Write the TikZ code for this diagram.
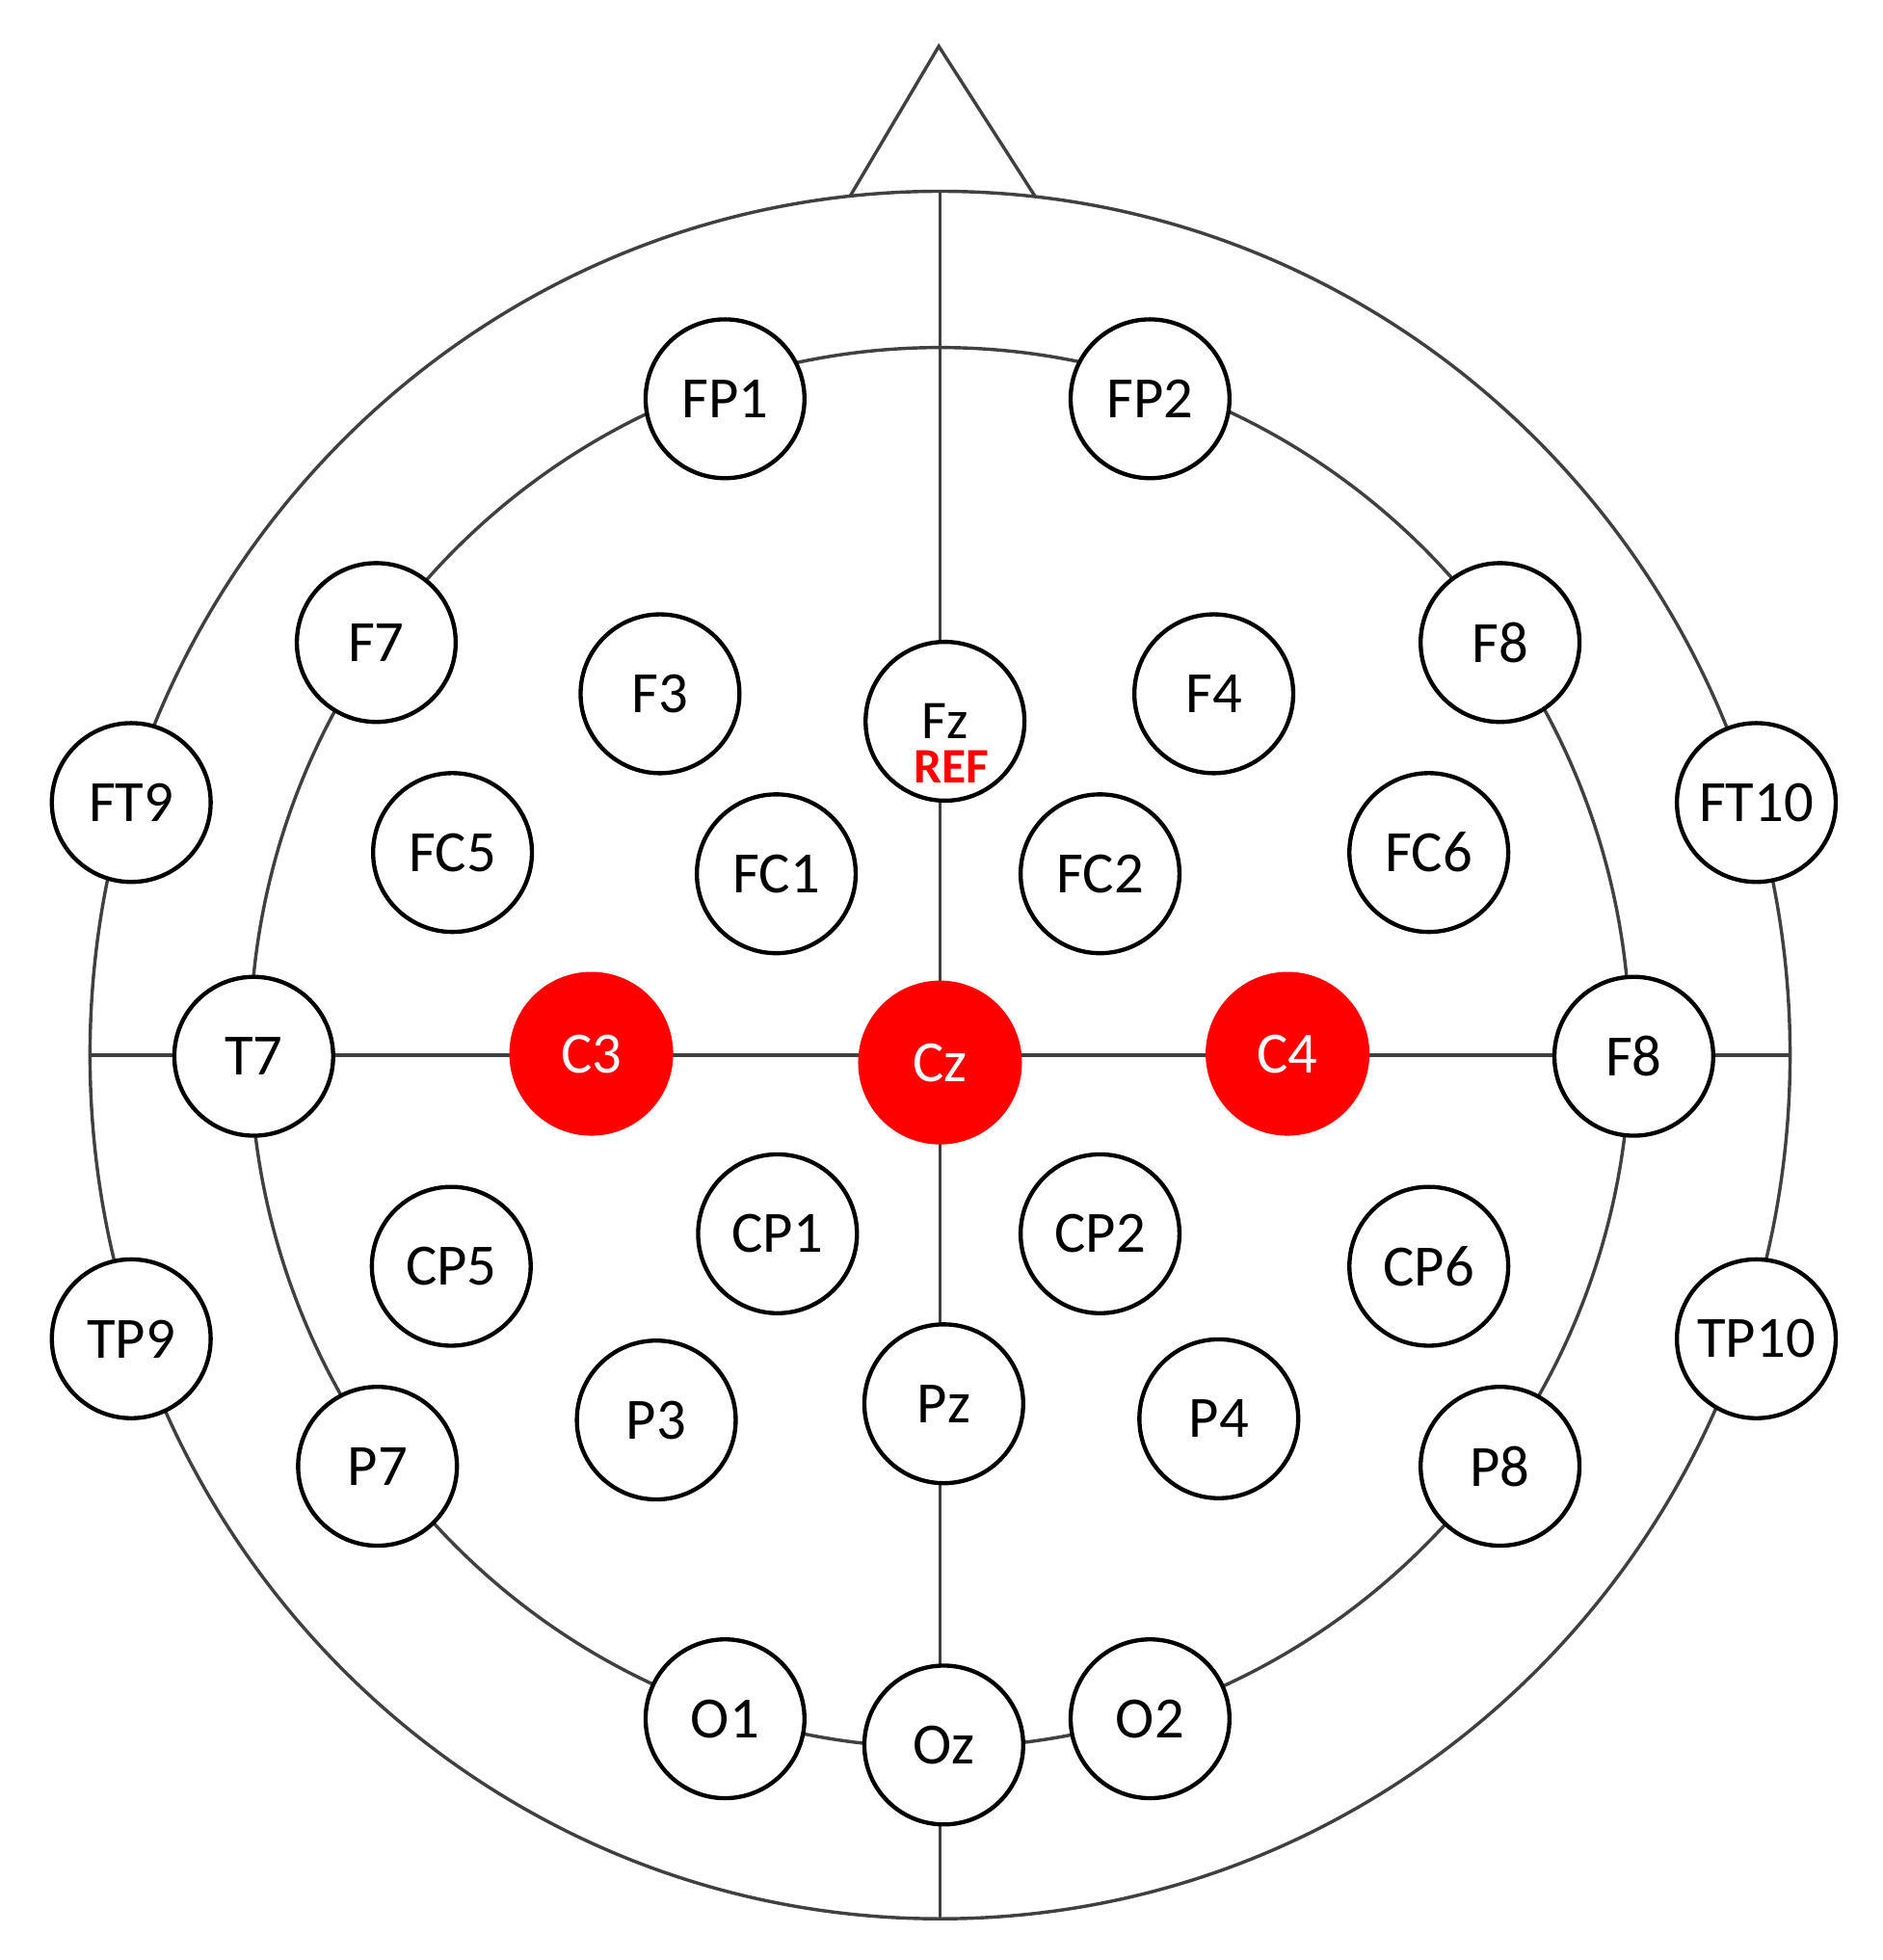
\documentclass[tikz,border=0pt]{standalone}
\usepackage{fontspec}
\setmainfont{Carlito}
\begin{document}
\begin{tikzpicture}[x=0.01cm, y=-0.01cm, every node/.style={font=\fontsize{13.3}{15}\selectfont},
  electrode/.style={circle, draw=black, line width=0.95pt, fill=white, minimum size=1.27cm, inner sep=0pt},
  active/.style={circle, fill=red, text=white, minimum size=1.31cm, inner sep=0pt},
  headline/.style={draw=black!75, line width=0.75pt}]
  \useasboundingbox (0,0) rectangle (1506,1568);
  \coordinate (top) at (752,153);
  \coordinate (bottom) at (752,1535);
  \coordinate (left) at (72,844);
  \coordinate (right) at (1432,844);
  \coordinate (noseL) at (680,157);
  \coordinate (noseR) at (828,157);
  \coordinate (nosetip) at (751,37);
  \draw[headline] (752,844) ellipse [x radius=680, y radius=691];
  \draw[headline] (752,838) ellipse [x radius=552, y radius=560];
  \draw[headline] (noseL) -- (nosetip) -- (noseR);
  \draw[headline] (top) -- (bottom);
  \draw[headline] (left) -- (right);
  \node[electrode] (fp1) at (580,319) {FP1};
  \node[electrode] (fp2) at (920,319) {FP2};
  \node[electrode] (f7) at (301,514) {F7};
  \node[electrode] (f3) at (528,555) {F3};
  \node[electrode] (fz) at (756,577) {};
  \node[anchor=base, inner sep=0pt, font=\fontsize{12.4}{14}\selectfont] (fzname) at (756,591) {Fz};
  \node[anchor=base, inner sep=0pt, text=red, font=\fontsize{11.3}{13}\selectfont\bfseries] (fzref) at (761,626) {REF};
  \node[electrode] (f4) at (971,555) {F4};
  \node[electrode] (f8) at (1200,514) {F8};
  \node[electrode] (ft9) at (105,642) {FT9};
  \node[electrode] (ft10) at (1405,642) {FT10};
  \node[electrode] (fc5) at (362,682) {FC5};
  \node[electrode] (fc1) at (621,699) {FC1};
  \node[electrode] (fc2) at (880,699) {FC2};
  \node[electrode] (fc6) at (1143,682) {FC6};
  \node[electrode] (t7) at (203,845) {T7};
  \node[active] (c3) at (473,843) {C3};
  \node[active] (cz) at (752,850) {Cz};
  \node[active] (c4) at (1030,843) {C4};
  \node[electrode] (t8) at (1307,845) {F8};
  \node[electrode] (cp5) at (361,1013) {CP5};
  \node[electrode] (cp1) at (622,987) {CP1};
  \node[electrode] (cp2) at (880,987) {CP2};
  \node[electrode] (cp6) at (1143,1013) {CP6};
  \node[electrode] (tp9) at (105,1071) {TP9};
  \node[electrode] (tp10) at (1405,1071) {TP10};
  \node[electrode] (p7) at (302,1173) {P7};
  \node[electrode] (p3) at (525,1136) {P3};
  \node[electrode] (pz) at (755,1123) {Pz};
  \node[electrode] (p4) at (975,1135) {P4};
  \node[electrode] (p8) at (1200,1173) {P8};
  \node[electrode] (o1) at (580,1375) {O1};
  \node[electrode] (oz) at (755,1396) {Oz};
  \node[electrode] (o2) at (920,1375) {O2};
\end{tikzpicture}
\end{document}
